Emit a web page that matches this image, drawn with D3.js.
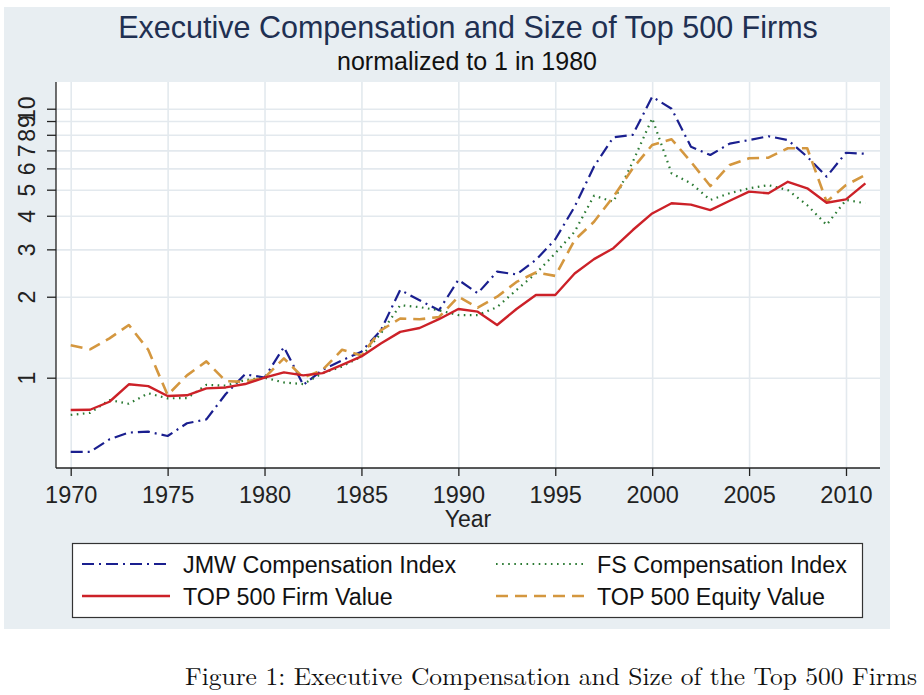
<!DOCTYPE html>
<html>
<head>
<meta charset="utf-8">
<script src="https://cdn.jsdelivr.net/npm/d3@7"></script>
<style>
  html, body { margin: 0; padding: 0; background: #ffffff; }
  svg { display: block; }
</style>
</head>
<body>
<svg id="chart" width="924" height="695"></svg>
<script>
const years = d3.range(1970, 2012);
const jmwIndex = [0.53, 0.53, 0.59, 0.625, 0.63, 0.607, 0.677, 0.70, 0.87, 1.03,
  1.0, 1.30, 0.94, 1.07, 1.16, 1.25, 1.50, 2.12, 1.94, 1.78,
  2.31, 2.06, 2.48, 2.42, 2.74, 3.27, 4.32, 6.1, 7.83, 8.0,
  11.08, 10.0, 7.22, 6.73, 7.42, 7.65, 7.9, 7.65, 6.63, 5.59, 6.86, 6.8];
const fsIndex = [0.727, 0.74, 0.826, 0.80, 0.875, 0.838, 0.84, 0.94, 0.935, 0.98,
  1.0, 0.96, 0.947, 1.04, 1.1, 1.2, 1.46, 1.86, 1.83, 1.78,
  1.71, 1.71, 1.83, 2.12, 2.44, 2.9, 3.49, 4.75, 4.51, 6.35,
  9.21, 5.75, 5.28, 4.58, 4.85, 5.06, 5.2, 4.98, 4.38, 3.70, 4.58, 4.45];
const firmValue = [0.758, 0.76, 0.814, 0.945, 0.93, 0.855, 0.86, 0.913, 0.92, 0.947,
  1.0, 1.047, 1.02, 1.04, 1.115, 1.2, 1.34, 1.48, 1.53, 1.65,
  1.80, 1.76, 1.57, 1.80, 2.03, 2.03, 2.44, 2.76, 3.03, 3.54,
  4.08, 4.45, 4.4, 4.2, 4.55, 4.92, 4.85, 5.35, 5.06, 4.47, 4.6, 5.28];
const equityValue = [1.32, 1.275, 1.40, 1.57, 1.27, 0.862, 1.02, 1.15, 0.97, 0.966,
  1.0, 1.18, 1.0, 1.07, 1.27, 1.21, 1.50, 1.66, 1.65, 1.68,
  2.0, 1.82, 2.0, 2.27, 2.46, 2.39, 3.25, 3.8, 4.71, 6.0,
  7.33, 7.7, 6.35, 5.16, 6.18, 6.54, 6.58, 7.13, 7.13, 4.51, 5.2, 5.67];
const yTicks = [1, 2, 3, 4, 5, 6, 7, 8, 9, 10];
const xTicks = [1970, 1975, 1980, 1985, 1990, 1995, 2000, 2005, 2010];
const seriesNames = ["JMW Compensation Index", "FS Compensation Index", "TOP 500 Firm Value", "TOP 500 Equity Value"];

const titleText = "Executive Compensation and Size of Top 500 Firms";
const subtitleText = "normalized to 1 in 1980";
const xLabel = "Year";
const captionText = "Figure 1: Executive Compensation and Size of the Top 500 Firms";

const svg = d3.select("#chart");
const sans = "'Liberation Sans', Arial, sans-serif";

// layout
const plot = {left: 56, right: 880, top: 82, bottom: 468};

svg.append("rect").attr("x", 4).attr("y", 7).attr("width", 886).attr("height", 622)
  .attr("fill", "#e8eef2");
svg.append("rect").attr("x", plot.left).attr("y", plot.top)
  .attr("width", plot.right - plot.left).attr("height", plot.bottom - plot.top)
  .attr("fill", "#ffffff");

const x = d3.scaleLinear().domain([1970, 2010]).range([70.7, 846]);
const y = d3.scaleLog().domain([0.4616, 12.57]).range([plot.bottom, plot.top]);

// gridlines
const gridColor = "#e3e9ee";
svg.append("g").attr("transform", `translate(${plot.left},0)`)
  .call(d3.axisLeft(y).tickValues(yTicks).tickSize(-(plot.right - plot.left)).tickFormat(""))
  .call(g => g.select(".domain").remove())
  .call(g => g.selectAll("line").attr("stroke", gridColor).attr("stroke-width", 1.6));
svg.append("g").attr("transform", `translate(0,${plot.bottom})`)
  .call(d3.axisBottom(x).tickValues(xTicks).tickSize(-(plot.bottom - plot.top)).tickFormat(""))
  .call(g => g.select(".domain").remove())
  .call(g => g.selectAll("line").attr("stroke", gridColor).attr("stroke-width", 1.6));

// series
const series = [
  {name: seriesNames[0], values: jmwIndex, color: "#1a1f8f", dash: "12,5,2,5", width: 2.2},
  {name: seriesNames[1], values: fsIndex, color: "#2b7a33", dash: "1.6,4.5", width: 2.2},
  {name: seriesNames[2], values: firmValue, color: "#cc2128", dash: null, width: 2.4},
  {name: seriesNames[3], values: equityValue, color: "#d4973f", dash: "12,7", width: 2.6}
];
const line = d3.line().x((d, i) => x(years[i])).y(d => y(d));
const drawOrder = [0, 1, 3, 2];
drawOrder.forEach(k => {
  const s = series[k];
  svg.append("path").datum(s.values)
    .attr("d", line)
    .attr("fill", "none")
    .attr("stroke", s.color)
    .attr("stroke-width", s.width)
    .attr("stroke-dasharray", s.dash)
    .attr("stroke-linejoin", "round");
});

// axes
const yAxis = svg.append("g").attr("transform", `translate(${plot.left},0)`)
  .call(d3.axisLeft(y).tickValues(yTicks).tickFormat(d3.format("d")).tickSize(9).tickPadding(0));
yAxis.select(".domain").attr("d", `M0,${plot.top}V${plot.bottom}`).attr("stroke", "#222").attr("stroke-width", 1.3);
yAxis.selectAll(".tick line").attr("stroke", "#222").attr("stroke-width", 1.3);
yAxis.selectAll(".tick text")
  .attr("x", null).attr("dy", null)
  .attr("transform", "translate(-21,0) rotate(-90)")
  .attr("text-anchor", "middle")
  .attr("font-family", sans).attr("font-size", 23).attr("fill", "#222");

const xAxis = svg.append("g").attr("transform", `translate(0,${plot.bottom})`)
  .call(d3.axisBottom(x).tickValues(xTicks).tickFormat(d3.format("d")).tickSize(8).tickPadding(0));
xAxis.select(".domain").attr("d", `M${plot.left},0H${plot.right}`).attr("stroke", "#222").attr("stroke-width", 1.3);
xAxis.selectAll(".tick line").attr("stroke", "#222").attr("stroke-width", 1.3);
xAxis.selectAll(".tick text")
  .attr("y", 35).attr("dy", null)
  .attr("font-family", sans).attr("font-size", 23.5).attr("fill", "#222");

svg.append("text").attr("x", 468).attr("y", 527).attr("text-anchor", "middle")
  .attr("font-family", sans).attr("font-size", 23).attr("fill", "#222").text(xLabel);

// titles
svg.append("text").attr("x", 468).attr("y", 38).attr("text-anchor", "middle")
  .attr("font-family", sans).attr("font-size", 30.5).attr("fill", "#1f3052").text(titleText);
svg.append("text").attr("x", 467).attr("y", 70).attr("text-anchor", "middle")
  .attr("font-family", sans).attr("font-size", 25).attr("fill", "#111").text(subtitleText);

// legend
svg.append("rect").attr("x", 72.5).attr("y", 543.5).attr("width", 790).attr("height", 74)
  .attr("fill", "#ffffff").attr("stroke", "#333").attr("stroke-width", 1.2);
const legendPos = [
  {k: 0, x1: 82, x2: 170, ly: 564, tx: 183},
  {k: 1, x1: 496, x2: 584, ly: 564, tx: 597},
  {k: 2, x1: 82, x2: 170, ly: 596, tx: 183},
  {k: 3, x1: 496, x2: 584, ly: 596, tx: 597}
];
legendPos.forEach(p => {
  const s = series[p.k];
  svg.append("line").attr("x1", p.x1).attr("x2", p.x2).attr("y1", p.ly).attr("y2", p.ly)
    .attr("stroke", s.color).attr("stroke-width", s.width).attr("stroke-dasharray", s.dash);
  svg.append("text").attr("x", p.tx).attr("y", p.ly + 9)
    .attr("font-family", sans).attr("font-size", 23.3).attr("fill", "#111").text(s.name);
});

// caption
svg.append("text").attr("x", 185).attr("y", 685)
  .attr("font-family", "'Latin Modern Roman', 'Liberation Serif', 'DejaVu Serif', serif")
  .attr("font-size", 24.5).attr("fill", "#111")
  .attr("textLength", 732).attr("lengthAdjust", "spacingAndGlyphs")
  .text(captionText);
</script>
</body>
</html>
